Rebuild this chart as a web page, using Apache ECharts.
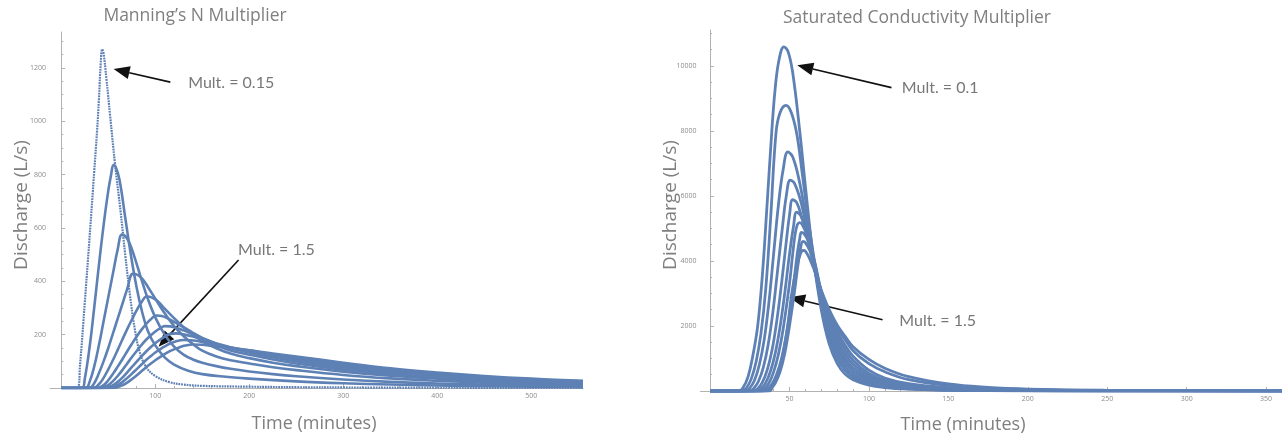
<!DOCTYPE html>
<html>
<head>
<meta charset="utf-8">
<title>Hydrograph sensitivity</title>
<script src="https://cdn.jsdelivr.net/npm/echarts@6/dist/echarts.min.js"></script>
<style>
  html, body { margin: 0; padding: 0; background: #ffffff; }
  #chart { width: 1282px; height: 434px; }
</style>
</head>
<body>
<div id="chart"></div>
<script>
// ---- Manning's N multiplier runs: [time (min), discharge (L/s)] ----
const manning015 = [[0,0],[17,0],[20,90],[25,320],[30,560],[35,810],[38,960],[40,1080],[42,1220],[43.5,1270],[45,1255],[48,1160],[52,1020],[57,845],[63,665],[68,500],[73,350],[78,225],[83,140],[90,80],[100,45],[115,22],[130,13],[150,8],[200,5],[250,3],[300,2],[400,1],[555,0.5]];
const manning030 = [[0,0],[22,0],[25,35],[30,150],[35,300],[40,460],[45,610],[50,740],[53,800],[55.5,836],[58,828],[62,780],[68,640],[74,500],[80,380],[86,285],[92,215],[100,160],[110,115],[120,88],[135,65],[150,52],[175,42],[200,35],[250,25],[300,18],[350,13],[400,9.5],[450,7],[500,5],[555,3.5]];
const manning045 = [[0,0],[26,0],[30,22],[35,80],[40,160],[45,250],[50,340],[55,430],[60,520],[64.5,575],[68,570],[72,548],[78,490],[85,410],[92,335],[100,265],[110,200],[120,155],[130,125],[140,107],[150,95],[165,82],[180,72],[200,62],[225,52],[250,44],[300,32],[350,23],[400,17],[450,12.5],[500,9],[555,6.5]];
const manning060 = [[0,0],[30,0],[35,18],[40,55],[45,100],[50,150],[55,205],[60,260],[65,315],[70,370],[76,428],[80,426],[86,410],[92,380],[100,335],[110,280],[120,232],[130,195],[140,165],[150,140],[165,118],[180,104],[200,92],[225,78],[250,67],[300,49],[350,36],[400,27],[450,20],[500,15],[555,11]];
const manning075 = [[0,0],[34,0],[40,14],[45,38],[50,70],[55,105],[60,143],[65,182],[70,220],[75,256],[80,290],[85,320],[91,343],[96,340],[102,327],[110,298],[120,262],[130,228],[140,200],[150,176],[165,149],[180,129],[200,112],[225,95],[250,82],[300,61],[350,46],[400,35],[450,26],[500,20],[555,15]];
const manning090 = [[0,0],[38,0],[45,11],[50,29],[55,53],[60,80],[65,108],[70,137],[75,165],[80,192],[85,217],[90,239],[95,257],[101,272],[107,270],[114,260],[122,244],[130,228],[140,207],[150,187],[165,161],[180,141],[200,125],[225,107],[250,92],[300,69],[350,52],[400,40],[450,30],[500,23],[555,17]];
const manning105 = [[0,0],[42,0],[50,11],[55,26],[60,45],[65,67],[70,91],[75,115],[80,138],[85,160],[90,180],[95,197],[100,212],[105,224],[110,232],[116,231],[123,225],[130,216],[140,202],[150,188],[165,166],[180,149],[200,133],[225,115],[250,100],[300,76],[350,58],[400,44],[450,34],[500,26],[555,20]];
const manning120 = [[0,0],[46,0],[55,11],[60,23],[65,39],[70,58],[75,78],[80,98],[85,117],[90,136],[95,153],[100,168],[105,181],[110,193],[116,203],[122,205],[130,201],[140,193],[150,183],[165,167],[180,153],[200,139],[225,122],[250,107],[300,82],[350,63],[400,48],[450,37],[500,29],[555,22]];
const manning135 = [[0,0],[50,0],[60,11],[65,22],[70,37],[75,53],[80,70],[85,87],[90,104],[95,119],[100,133],[105,145],[110,156],[116,167],[123,176],[130,180],[138,179],[150,173],[165,162],[180,152],[200,141],[225,126],[250,113],[300,88],[350,68],[400,53],[450,41],[500,32],[555,25]];
const manning150 = [[0,0],[54,0],[65,10],[70,20],[75,33],[80,47],[85,62],[90,77],[95,91],[100,104],[105,116],[110,127],[115,137],[120,145],[126,153],[132,159],[140,163],[150,162],[165,156],[180,149],[200,141],[225,129],[250,118],[300,95],[350,74],[400,58],[450,45],[500,35],[555,27]];

// ---- Saturated conductivity multiplier runs (0.1 -> 1.5) ----
const ksRun01 = [[0,0],[18,0],[21,120],[24,450],[27,1100],[30,2000],[33,3600],[36,5800],[38.8,7930],[41,9300],[43.5,10200],[46.5,10580],[49,10450],[52,9800],[56.6,7930],[60,6300],[65,4100],[70,2500],[75,1450],[80,850],[85,520],[90,350],[100,180],[110,105],[125,55],[150,22],[175,11],[200,6],[250,2],[300,1],[360,0.5]];
const ksRun02 = [[0,0],[20,0],[23,100],[26,380],[29,900],[32,1750],[35,3100],[38,5200],[41.5,7930],[44,8550],[47.8,8780],[51,8580],[54.5,7930],[58,6700],[62,5200],[66,3900],[70,2650],[75,1650],[80,1000],[85,640],[90,430],[100,220],[110,130],[125,68],[150,28],[175,14],[200,7],[250,2.5],[300,1],[360,0.5]];
const ksRun03 = [[0,0],[22,0],[25,90],[28,330],[31,800],[34,1550],[37,2700],[40,4200],[43,5700],[46,6800],[49,7350],[52,7200],[56,6500],[60,5450],[65,4000],[70,2750],[75,1800],[80,1150],[85,760],[90,520],[100,270],[110,160],[125,82],[150,34],[175,17],[200,9],[250,3],[300,1.2],[360,0.5]];
const ksRun04 = [[0,0],[24.5,0],[27.5,80],[30.5,300],[33.5,720],[36.5,1400],[39.5,2400],[42.5,3700],[45.5,5000],[48,6000],[50.5,6480],[53,6400],[57,5850],[61,4950],[65,3950],[70,2830],[75,1930],[80,1300],[85,880],[90,610],[100,330],[110,195],[125,100],[150,42],[175,21],[200,11],[250,3.5],[300,1.4],[360,0.6]];
const ksRun05 = [[0,0],[27,0],[30,70],[33,270],[36,650],[39,1250],[42,2150],[45,3300],[48,4600],[50,5400],[52,5880],[54.5,5800],[58,5300],[62,4550],[66,3700],[70,2900],[75,2050],[80,1450],[85,1000],[90,710],[100,390],[110,235],[125,120],[150,52],[175,26],[200,13],[250,4.5],[300,1.7],[360,0.7]];
const ksRun06 = [[0,0],[29,0],[32,65],[35,250],[38,600],[41,1150],[44,1950],[47,3000],[50,4200],[52.5,5050],[54.5,5500],[57,5400],[60,5000],[64,4250],[67,3600],[70,2960],[75,2170],[80,1590],[85,1140],[90,820],[100,460],[110,280],[125,145],[150,65],[175,32],[200,17],[250,6],[300,2.2],[360,0.8]];
const ksRun07 = [[0,0],[31,0],[34,60],[37,240],[40,580],[43,1120],[46,1900],[50,3300],[52,4200],[53.5,4800],[55,5120],[56.5,5180],[58,5120],[61,4800],[65,4100],[70,3020],[75,2280],[80,1720],[85,1280],[90,940],[100,540],[110,330],[125,180],[150,82],[175,40],[200,21],[250,7.5],[300,2.7],[360,1]];
const ksRun08 = [[0,0],[33,0],[36,55],[39,215],[42,520],[45,1000],[48,1720],[51,2650],[53,3450],[55,4250],[56.5,4700],[57.5,4880],[59,4850],[62,4600],[66,3950],[70,3060],[75,2350],[80,1830],[85,1410],[90,1070],[100,640],[110,400],[125,225],[150,105],[175,52],[200,28],[250,10],[300,3.6],[360,1.3]];
const ksRun09 = [[0,0],[35,0],[38,60],[41,240],[44,580],[47,1150],[50,2000],[53,3000],[55,3750],[57,4400],[58.5,4600],[60,4560],[63,4300],[66,3850],[70,3080],[75,2440],[80,1960],[85,1580],[90,1240],[100,840],[110,590],[125,350],[150,170],[175,85],[200,46],[250,17],[300,7],[360,2.5]];
const ksRun10 = [[0,0],[37,0],[40,220],[43,560],[46,1150],[49,2050],[51,2850],[53,3450],[55,3900],[57,4230],[58.5,4320],[60,4300],[65,3800],[70,3100],[75,2500],[80,2030],[85,1680],[90,1360],[100,970],[110,700],[125,440],[150,215],[175,110],[200,60],[250,22],[300,9],[360,3]];

// ---- Tick values ----
const manningTimeTicks = [100, 200, 300, 400, 500];
const manningTimeMinor = [20, 40, 60, 80, 120, 140, 160, 180, 220, 240, 260, 280, 320, 340, 360, 380, 420, 440, 460, 480, 520, 540];
const manningQTicks = [200, 400, 600, 800, 1000, 1200];
const manningQMinor = [50, 100, 150, 250, 300, 350, 450, 500, 550, 650, 700, 750, 850, 900, 950, 1050, 1100, 1150, 1250, 1300];
const ksTimeTicks = [50, 100, 150, 200, 250, 300, 350];
const ksTimeMinor = [10, 20, 30, 40, 60, 70, 80, 90, 110, 120, 130, 140, 160, 170, 180, 190, 210, 220, 230, 240, 260, 270, 280, 290, 310, 320, 330, 340];
const ksQTicks = [2000, 4000, 6000, 8000, 10000];
const ksQMinor = [500, 1000, 1500, 2500, 3000, 3500, 4500, 5000, 5500, 6500, 7000, 7500, 8500, 9000, 9500, 10500, 11000];

const manningRuns = [manning015, manning030, manning045, manning060, manning075, manning090, manning105, manning120, manning135, manning150];
const ksRuns = [ksRun01, ksRun02, ksRun03, ksRun04, ksRun05, ksRun06, ksRun07, ksRun08, ksRun09, ksRun10];

// ---- Styling ----
const CURVE = '#5E81B5';
const AXIS_GREY = '#b2b2b2';
const TICK_LABEL = '#8c8c8c';
const TITLE_GREY = '#7f7f7f';
const UI_FONT = '"Open Sans", "Noto Sans", sans-serif';

function majorAxis(dim, grid, min, max, ticks) {
  return {
    type: 'value', gridIndex: grid, min: min, max: max,
    position: dim === 'x' ? 'bottom' : 'left',
    axisLine: { show: true, onZero: true, lineStyle: { color: AXIS_GREY, width: 1 } },
    axisTick: { show: true, inside: true, length: 4, customValues: ticks, lineStyle: { color: AXIS_GREY, width: 1 } },
    axisLabel: { show: true, customValues: ticks, fontSize: 7, color: TICK_LABEL, fontFamily: UI_FONT, margin: 4,
                 formatter: v => String(v) },
    splitLine: { show: false }
  };
}
function minorAxis(dim, grid, min, max, ticks) {
  return {
    type: 'value', gridIndex: grid, min: min, max: max,
    position: dim === 'x' ? 'bottom' : 'left',
    axisLine: { show: false, onZero: true },
    axisTick: { show: true, inside: true, length: 2, customValues: ticks, lineStyle: { color: AXIS_GREY, width: 1 } },
    axisLabel: { show: false },
    splitLine: { show: false }
  };
}
function runSeries(data, xi, yi, dotted, width) {
  return {
    type: 'line', data: data, xAxisIndex: xi, yAxisIndex: yi,
    showSymbol: false, smooth: 0.4, silent: true, clip: true,
    lineStyle: { color: CURVE, width: dotted ? 2.2 : width, type: dotted ? [1.8, 0.9] : 'solid', join: 'round' }
  };
}

const option = {
  animation: false,
  backgroundColor: '#ffffff',
  textStyle: { fontFamily: UI_FONT },
  grid: [
    { left: 50, top: 32, width: 533, height: 356 },
    { left: 700.5, top: 30, width: 582, height: 361 }
  ],
  xAxis: [
    majorAxis('x', 0, -12, 555, manningTimeTicks),
    minorAxis('x', 0, -12, 555, manningTimeMinor),
    majorAxis('x', 1, -6, 360, ksTimeTicks),
    minorAxis('x', 1, -6, 360, ksTimeMinor)
  ],
  yAxis: [
    majorAxis('y', 0, 0, 1335, manningQTicks),
    minorAxis('y', 0, 0, 1335, manningQMinor),
    majorAxis('y', 1, 0, 11100, ksQTicks),
    minorAxis('y', 1, 0, 11100, ksQMinor)
  ],
  series: [].concat(
    manningRuns.map((d, i) => runSeries(d, 0, 0, i === 0, 2.6)),
    ksRuns.map(d => runSeries(d, 2, 2, false, 2.8))
  )
};

const chart = echarts.init(document.getElementById('chart'), null, { renderer: 'canvas' });
chart.setOption(option);

// Arrow callouts, placed in data coordinates of each panel
const callouts = [
  { xi: 0, yi: 0, text: 'Mult. = 0.15', from: [116, 1147], to: [55.7, 1196], textAt: [135, 1144] },
  { xi: 0, yi: 0, text: 'Mult. = 1.5', from: [188.6, 480], to: [103.5, 155], textAt: [188, 517] },
  { xi: 2, yi: 2, text: 'Mult. = 0.1', from: [114.2, 9329], to: [54.9, 10015], textAt: [120.7, 9308] },
  { xi: 2, yi: 2, text: 'Mult. = 1.5', from: [108.6, 2191], to: [49.8, 2886], textAt: [119.1, 2169] }
];

const graphics = [
  { type: 'text', x: 195, y: 16, style: { text: 'Manning\u2019s N Multiplier', font: '17.5px ' + UI_FONT, fill: TITLE_GREY, align: 'center', verticalAlign: 'middle' } },
  { type: 'text', x: 917, y: 18, style: { text: 'Saturated Conductivity Multiplier', font: '17.5px ' + UI_FONT, fill: TITLE_GREY, align: 'center', verticalAlign: 'middle' } },
  { type: 'text', x: 22, y: 205, rotation: Math.PI / 2, style: { text: 'Discharge (L/s)', font: '19px ' + UI_FONT, fill: TITLE_GREY, align: 'center', verticalAlign: 'middle' } },
  { type: 'text', x: 671, y: 205, rotation: Math.PI / 2, style: { text: 'Discharge (L/s)', font: '19px ' + UI_FONT, fill: TITLE_GREY, align: 'center', verticalAlign: 'middle' } },
  { type: 'text', x: 314, y: 424, style: { text: 'Time (minutes)', font: '18px ' + UI_FONT, fill: TITLE_GREY, align: 'center', verticalAlign: 'middle' } },
  { type: 'text', x: 963, y: 425, style: { text: 'Time (minutes)', font: '18px ' + UI_FONT, fill: TITLE_GREY, align: 'center', verticalAlign: 'middle' } }
];

callouts.forEach(c => {
  const finder = { xAxisIndex: c.xi, yAxisIndex: c.yi };
  const p0 = chart.convertToPixel(finder, c.from);
  const p1 = chart.convertToPixel(finder, c.to);
  const pt = chart.convertToPixel(finder, c.textAt);
  const dx = p1[0] - p0[0], dy = p1[1] - p0[1];
  const len = Math.hypot(dx, dy), ux = dx / len, uy = dy / len;
  const headLen = 16, headHalf = 6.5;
  const bx = p1[0] - ux * headLen, by = p1[1] - uy * headLen;
  graphics.push({ type: 'line', shape: { x1: p0[0], y1: p0[1], x2: bx, y2: by }, style: { stroke: '#111111', lineWidth: 1.6 } });
  graphics.push({ type: 'polygon', shape: { points: [[p1[0], p1[1]], [bx - uy * headHalf, by + ux * headHalf], [bx + uy * headHalf, by - ux * headHalf]] }, style: { fill: '#111111' } });
  graphics.push({ type: 'text', x: pt[0], y: pt[1], style: { text: c.text, font: '16px Lato, ' + UI_FONT, fill: '#777777', align: 'left', verticalAlign: 'middle' } });
});

chart.setOption({ graphic: graphics });
</script>
</body>
</html>
